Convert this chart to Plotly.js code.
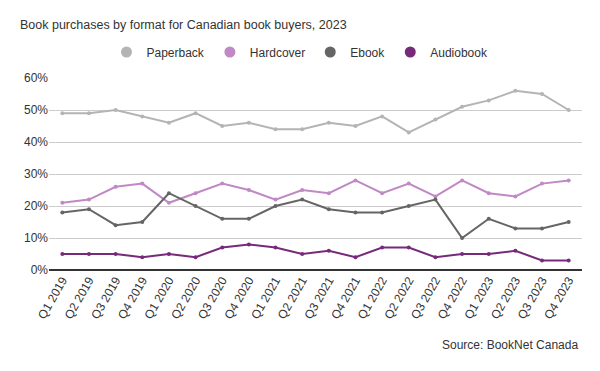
<!DOCTYPE html>
<html>
<head>
<meta charset="utf-8">
<script src="https://cdn.plot.ly/plotly-3.0.1.min.js"></script>
<style>
html,body{margin:0;padding:0;background:#fff;}
#chart{width:600px;height:371px;}
</style>
</head>
<body>
<div id="chart"></div>
<script>
const quarters = ["Q1 2019","Q2 2019","Q3 2019","Q4 2019","Q1 2020","Q2 2020","Q3 2020","Q4 2020","Q1 2021","Q2 2021","Q3 2021","Q4 2021","Q1 2022","Q2 2022","Q3 2022","Q4 2022","Q1 2023","Q2 2023","Q3 2023","Q4 2023"];
const paperback = [49,49,50,48,46,49,45,46,44,44,46,45,48,43,47,51,53,56,55,50];
const hardcover = [21,22,26,27,21,24,27,25,22,25,24,28,24,27,23,28,24,23,27,28];
const ebook = [18,19,14,15,24,20,16,16,20,22,19,18,18,20,22,10,16,13,13,15];
const audiobook = [5,5,5,4,5,4,7,8,7,5,6,4,7,7,4,5,5,6,3,3];

const seriesNames = ["Paperback","Hardcover","Ebook","Audiobook"];
const seriesData = [paperback, hardcover, ebook, audiobook];
const colors = ["#b4b4b4","#c088c4","#656565","#772a7a"];

const traces = seriesData.map((vals, i) => ({
  type: "scatter",
  mode: "lines+markers",
  name: seriesNames[i],
  legendgroup: seriesNames[i],
  showlegend: false,
  x: quarters,
  y: vals.map(v => v / 100),
  line: {color: colors[i], width: 2},
  marker: {color: colors[i], size: 4},
  hoverinfo: "skip"
}));

// legend entries (circle symbols only)
seriesNames.forEach((nm, i) => {
  traces.push({
    type: "scatter",
    mode: "markers",
    name: nm,
    legendgroup: nm,
    showlegend: true,
    x: [null],
    y: [null],
    marker: {color: colors[i], size: 11},
    hoverinfo: "skip"
  });
});

const layout = {
  width: 600,
  height: 371,
  margin: {l: 49, r: 18, t: 78, b: 101},
  paper_bgcolor: "#fff",
  plot_bgcolor: "#fff",
  font: {family: "Liberation Sans, Arial, sans-serif", color: "#333", size: 12},
  title: {
    text: "Book purchases by format for Canadian book buyers, 2023",
    xref: "container", x: 20 / 600, xanchor: "left",
    yref: "container", y: 1 - 25 / 371, yanchor: "middle",
    font: {size: 12.5, color: "#333"}
  },
  showlegend: true,
  legend: {
    orientation: "h",
    xref: "container", x: 0.5, xanchor: "center",
    yref: "container", y: 1 - 52 / 371, yanchor: "middle",
    font: {size: 12, color: "#333"},
    traceorder: "normal"
  },
  xaxis: {
    type: "category",
    range: [-0.5, 19.5],
    tickangle: -60,
    tickfont: {size: 12, color: "#333"},
    showgrid: false,
    showline: false,
    zeroline: false,
    ticks: "",
    fixedrange: true
  },
  yaxis: {
    range: [0, 0.6],
    tickvals: [0, 0.1, 0.2, 0.3, 0.4, 0.5, 0.6],
    tickformat: ".0%",
    tickfont: {size: 12, color: "#333"},
    gridcolor: "#cccccc",
    gridwidth: 1,
    zeroline: true,
    zerolinecolor: "#333",
    zerolinewidth: 1.5,
    showline: false,
    ticks: "",
    fixedrange: true
  },
  annotations: [{
    text: "Source: BookNet Canada",
    xref: "paper", yref: "paper",
    x: (580 - 49) / 533, y: (270 - 345) / 192,
    xanchor: "right", yanchor: "middle",
    showarrow: false,
    font: {size: 12, color: "#333"}
  }]
};

Plotly.newPlot("chart", traces, layout, {displayModeBar: false, staticPlot: true});
</script>
</body>
</html>
